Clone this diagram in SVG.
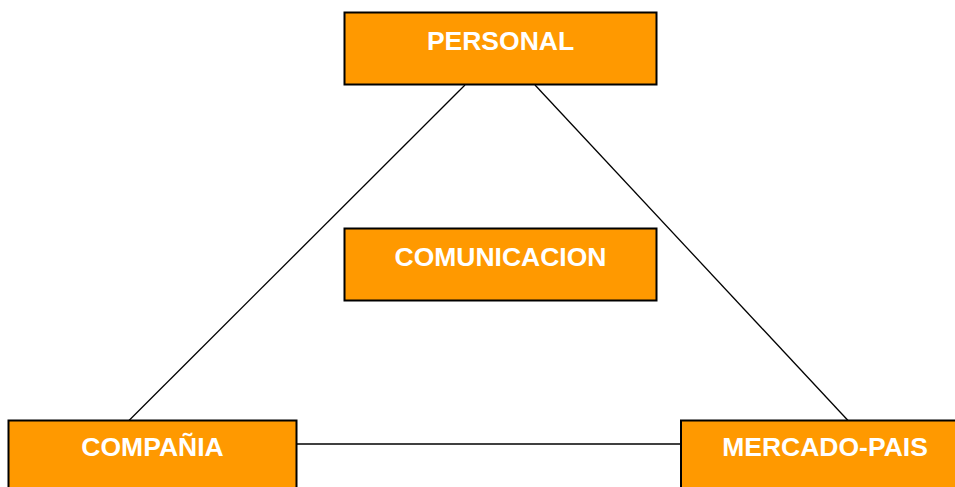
<svg xmlns="http://www.w3.org/2000/svg" width="955" height="487" viewBox="0 0 955 487">
<style>
.box{fill:#ff9900;stroke:#000;stroke-width:2}
.lbl{font-family:"Liberation Sans",Arial,sans-serif;font-weight:bold;font-size:26.5px;fill:#fff;text-anchor:middle}
.ln{stroke:#000;stroke-width:1.3;fill:none}
</style>
<rect width="955" height="487" fill="#fff"/>
<g id="connectors">
<line class="ln" x1="465" y1="85" x2="129" y2="420.5"/>
<line class="ln" x1="535" y1="85" x2="848" y2="420.5"/>
<line class="ln" x1="297" y1="444" x2="681" y2="444"/>
</g>
<g id="personal">
<rect class="box" x="344.5" y="12.5" width="312" height="72"/>
<text class="lbl" x="500.5" y="49.5">PERSONAL</text>
</g>
<g id="comunicacion">
<rect class="box" x="344.5" y="228.5" width="312" height="72"/>
<text class="lbl" x="500.5" y="265.5">COMUNICACION</text>
</g>
<g id="compania">
<rect class="box" x="8.5" y="420.5" width="288" height="72"/>
<text class="lbl" x="152.5" y="456">COMPAÑIA</text>
</g>
<g id="mercado-pais">
<rect class="box" x="681" y="420.5" width="288" height="72"/>
<text class="lbl" x="825" y="456">MERCADO-PAIS</text>
</g>
</svg>
